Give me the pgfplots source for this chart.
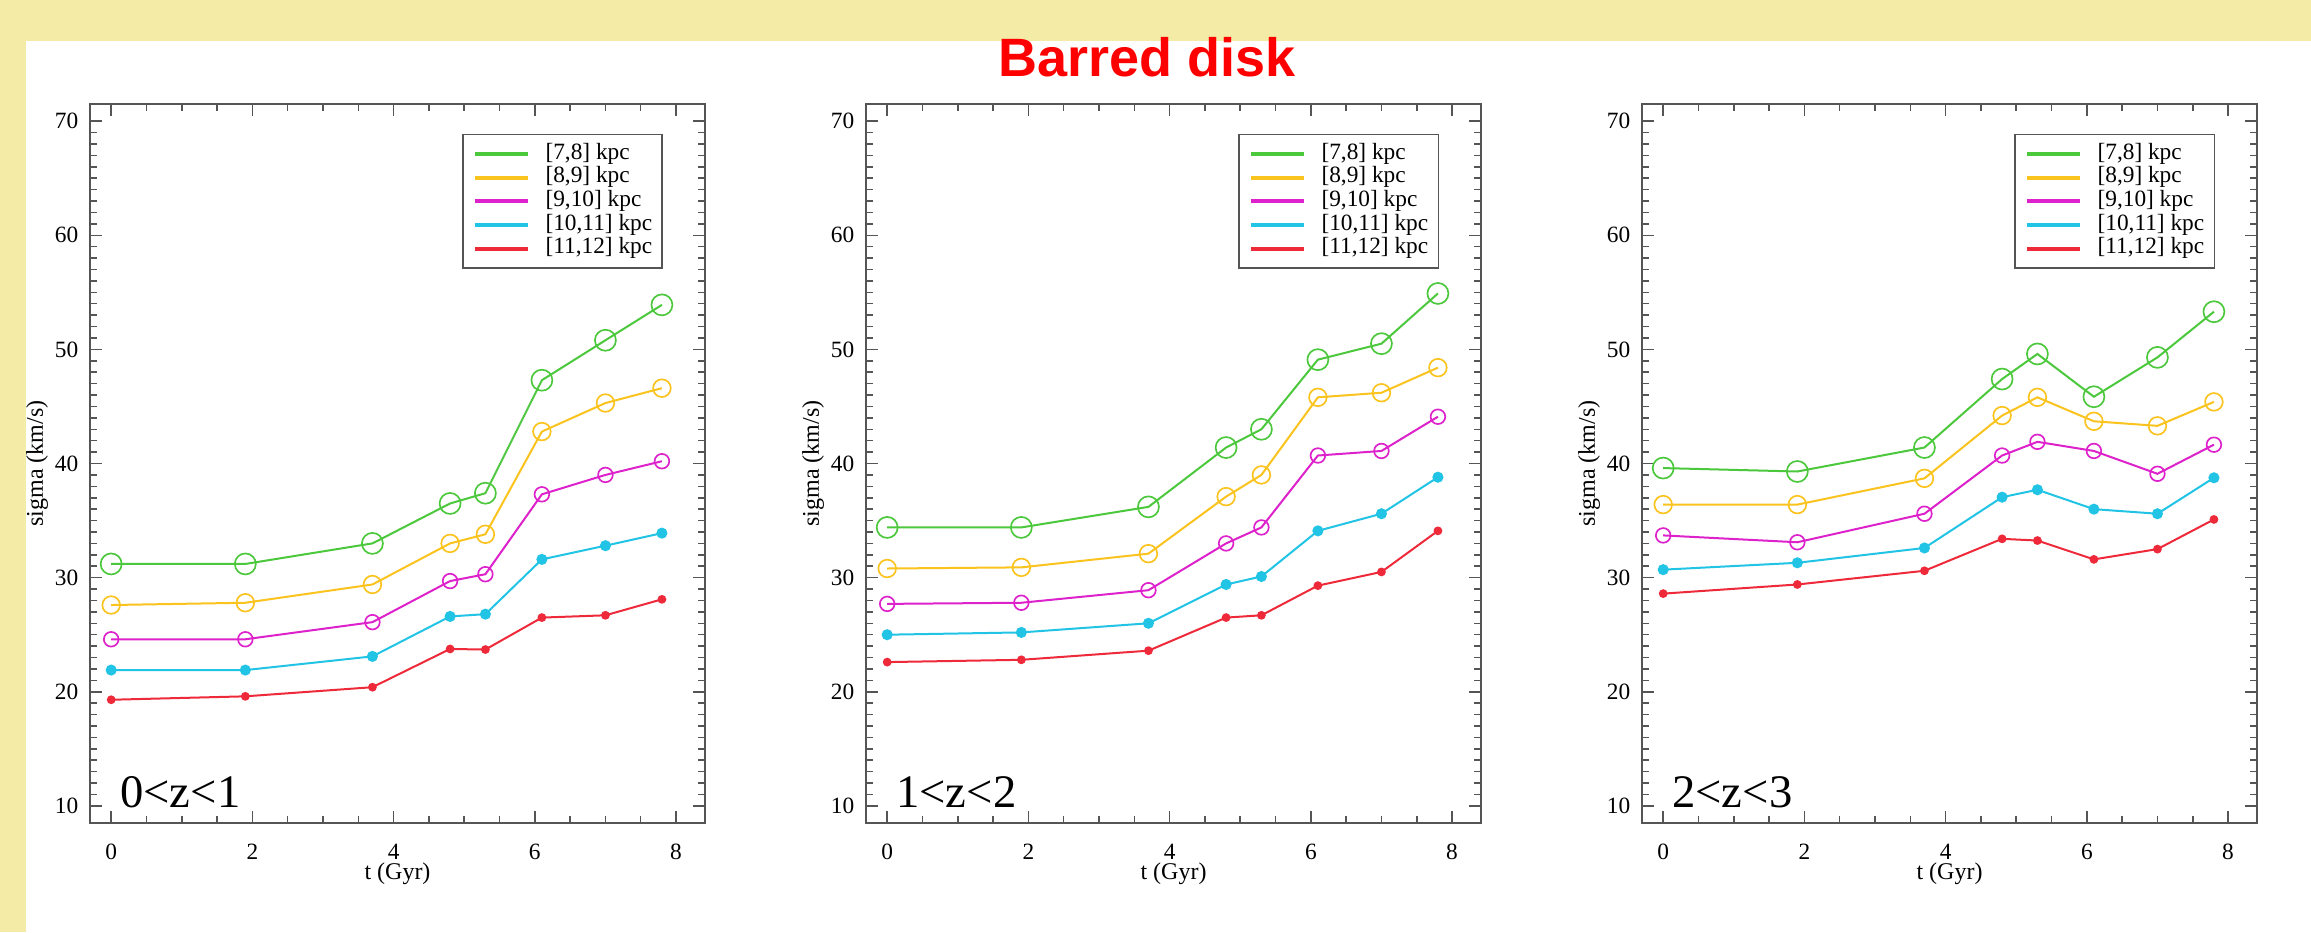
\documentclass[border=0pt]{standalone}
\usepackage{fontspec}
\setmainfont{Liberation Serif}
\newfontfamily\sansfont{Liberation Sans}
\usepackage{pgfplots}
\usepackage{pgfplotstable}
\pgfplotsset{compat=1.18}
\definecolor{bgyellow}{HTML}{F3EBA6}
\definecolor{cgreen}{HTML}{4CC83C}
\definecolor{corange}{HTML}{FBC31E}
\definecolor{cmag}{HTML}{DD22CC}
\definecolor{ccyan}{HTML}{22C4E6}
\definecolor{cred}{HTML}{EE2A3A}
\definecolor{frame}{HTML}{555555}

\pgfplotstableread{
t G O M C R
0   31.2 27.6 24.6 21.9 19.3
1.9 31.2 27.8 24.6 21.9 19.6
3.7 33.0 29.4 26.1 23.1 20.4
4.8 36.5 33.0 29.7 26.6 23.75
5.3 37.4 33.8 30.3 26.8 23.7
6.1 47.3 42.8 37.3 31.6 26.5
7.0 50.8 45.3 39.0 32.8 26.7
7.8 53.9 46.6 40.2 33.9 28.1
}\dataA
\pgfplotstableread{
t G O M C R
0   34.4 30.8 27.7 25.0 22.6
1.9 34.4 30.9 27.8 25.2 22.8
3.7 36.2 32.1 28.9 26.0 23.6
4.8 41.4 37.1 33.0 29.4 26.5
5.3 43.0 39.0 34.4 30.1 26.7
6.1 49.1 45.8 40.7 34.1 29.3
7.0 50.5 46.2 41.1 35.6 30.5
7.8 54.9 48.4 44.1 38.8 34.1
}\dataB
\pgfplotstableread{
t G O M C R
0   39.6 36.4 33.7 30.7 28.6
1.9 39.3 36.4 33.1 31.3 29.4
3.7 41.4 38.7 35.6 32.6 30.6
4.8 47.4 44.2 40.7 37.05 33.4
5.3 49.6 45.8 41.9 37.7 33.25
6.1 45.85 43.7 41.1 36.0 31.6
7.0 49.3 43.3 39.1 35.6 32.5
7.8 53.3 45.4 41.65 38.75 35.1
}\dataC

\pgfplotsset{
  panel/.style={
    scale only axis, width=184.5pt, height=215.7pt,
    anchor=south west,
    xmin=-0.3, xmax=8.41, ymin=8.5, ymax=71.5,
    xtick={0,2,4,6,8}, ytick={10,20,30,40,50,60,70},
    minor x tick num=3, minor y tick num=9,
    tick align=inside, major tick length=3.6pt, minor tick length=2.1pt,
    axis line style={frame, line width=0.6pt},
    tick style={frame, line width=0.45pt},
    /pgf/number format/assume math mode=true,
    ticklabel style={font=\fontsize{7}{7}\selectfont},
    xticklabel style={yshift=-2.8pt},
    xlabel={t (Gyr)}, ylabel={sigma (km/s)},
    every axis x label/.style={at={(axis description cs:0.5,-0.071)}, anchor=center, font=\fontsize{7.2}{7.2}\selectfont},
    every axis y label/.style={at={(axis description cs:-0.086,0.5)}, rotate=90, anchor=center, font=\fontsize{7.2}{7.2}\selectfont},
    legend style={at={(0.9317,0.9583)}, anchor=north east, draw=frame, line width=0.45pt, fill=white,
      font=\fontsize{7}{7}\selectfont, inner xsep=3pt, inner ysep=2.2pt, row sep=0pt,
      nodes={inner sep=0pt, text height=5.1pt, text depth=2pt},
      /tikz/every odd column/.append style={column sep=4.6pt}},
    legend cell align=left,
    legend image code/.code={\draw[#1, mark=none, line width=1.2pt] (0pt,0pt) -- (16pt,0pt);},
  },
  sG/.style={color=cgreen, line width=0.6pt, mark=o, mark size=3.15pt, mark options={line width=0.5pt}},
  sO/.style={color=corange, line width=0.6pt, mark=o, mark size=2.65pt, mark options={line width=0.5pt}},
  sM/.style={color=cmag, line width=0.6pt, mark=o, mark size=2.2pt, mark options={line width=0.5pt}},
  sC/.style={color=ccyan, line width=0.6pt, mark=*, mark size=1.35pt},
  sR/.style={color=cred, line width=0.6pt, mark=*, mark size=1.0pt},
}

\newcommand{\panel}[3]{%
\begin{axis}[panel, at={(#1,32.7pt)}]
\addplot[sG] table[x=t,y=G] {#2}; \addlegendentry{[7,8] kpc}
\addplot[sO] table[x=t,y=O] {#2}; \addlegendentry{[8,9] kpc}
\addplot[sM] table[x=t,y=M] {#2}; \addlegendentry{[9,10] kpc}
\addplot[sC] table[x=t,y=C] {#2}; \addlegendentry{[10,11] kpc}
\addplot[sR] table[x=t,y=R] {#2}; \addlegendentry{[11,12] kpc}
\node[anchor=base west, inner sep=0pt, font=\fontsize{14}{14}\selectfont] at (axis cs:0.12,9.85) {#3};
\end{axis}}

\begin{document}
\begin{tikzpicture}
\fill[bgyellow] (0,0) rectangle (693.3pt,279.6pt);
\fill[white] (7.71pt,0) rectangle (693.3pt,267.39pt);
\panel{27pt}{\dataA}{0<z<1}
\panel{259.8pt}{\dataB}{1<z<2}
\panel{492.6pt}{\dataC}{2<z<3}
\node[anchor=base, inner sep=0pt, text=red, font=\sansfont\bfseries\fontsize{16.2}{16.2}\selectfont] at (344.1pt,256.6pt) {Barred disk};
\pgfresetboundingbox
\useasboundingbox (0,0) rectangle (693.3pt,279.6pt);
\end{tikzpicture}
\end{document}
